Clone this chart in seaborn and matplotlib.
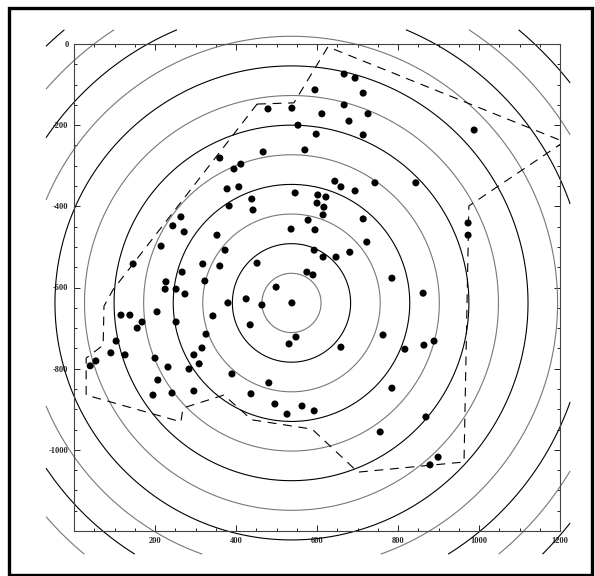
import numpy as np
import matplotlib
matplotlib.use("Agg")
import matplotlib.pyplot as plt
from matplotlib.ticker import MultipleLocator
from matplotlib.patches import Rectangle
import seaborn as sns

# data
pts_x = [479, 538, 595, 553, 598, 467, 570, 360, 412, 667, 694, 714, 667, 612, 726, 679, 714, 988,
         395, 378, 407, 439, 442, 383, 546, 602, 600, 264, 244, 272, 353, 578, 536, 595, 373, 593,
         215, 452, 146, 318, 360, 267, 323, 575, 590, 227, 225, 252, 499, 644, 659, 694, 743, 844,
         622, 617, 615, 714, 723, 681, 615, 647, 785, 973, 973, 274, 380, 425, 464, 538, 116, 138,
         205, 168, 156, 252, 343, 435, 326, 548, 531, 104, 316, 91, 126, 296, 54, 200, 309, 40,
         232, 284, 390, 481, 207, 195, 242, 296, 437, 496, 563, 593, 526, 862, 763, 659, 817, 864,
         889, 785, 869, 756, 899, 879]
pts_y = [-160, -158, -113, -200, -222, -266, -261, -281, -296, -74, -84, -121, -150, -172, -172, -190,
         -224, -212, -308, -357, -352, -382, -409, -399, -367, -372, -392, -426, -448, -463, -471,
         -434, -456, -458, -508, -508, -498, -540, -542, -542, -547, -562, -584, -562, -569, -586,
         -604, -604, -599, -338, -352, -362, -342, -342, -377, -402, -421, -431, -488, -513, -525,
         -525, -577, -441, -471, -616, -638, -628, -643, -638, -668, -668, -660, -685, -700, -685,
         -670, -692, -715, -722, -739, -732, -749, -761, -766, -766, -781, -774, -788, -793, -796,
         -801, -813, -835, -828, -865, -860, -855, -862, -887, -892, -904, -912, -614, -717, -747,
         -752, -742, -732, -848, -919, -956, -1018, -1037]

boundary_x = [452, 543, 627, 1210, 975, 963, 701, 588, 439, 370, 269, 264, 30, 30, 72, 74, 96, 452]
boundary_y = [-148, -145, -7, -241, -399, -1030, -1055, -949, -926, -865, -897, -931, -865, -774,
              -742, -646, -606, -148]

center_x, center_y = 537, -638
ring_radii = [73, 146, 219, 292, 365, 438, 511, 584, 657, 730, 803, 876]

xtick_vals = [200, 400, 600, 800, 1000, 1200]
xtick_labels = ["200", "400", "600", "800", "1000", "1200"]
ytick_vals = [0, -200, -400, -600, -800, -1000]
ytick_labels = ["0", "-200", "-400", "-600", "-800", "-1000"]

sns.set_style("ticks")

fig = plt.figure(figsize=(5.95, 5.76), dpi=100)
ax = fig.add_axes([74 / 595, 1 - 531 / 576, 486 / 595, 487 / 576])

# rings, drawn as contours of distance, on a field a little wider than the frame
gx = np.linspace(-69, 1225, 500)
gy = np.linspace(-1257, 35, 500)
GX, GY = np.meshgrid(gx, gy)
dist = np.hypot(GX - center_x, GY - center_y)
ring_cols = ["#777777" if i % 2 == 0 else "black" for i in range(len(ring_radii))]
cs = ax.contour(GX, GY, dist, levels=ring_radii, colors=ring_cols, linewidths=0.8)
cs.set_clip_on(False)

sns.lineplot(x=boundary_x, y=boundary_y, sort=False, estimator=None, color="black",
             linewidth=0.8, linestyle=(0, (8, 6)), ax=ax)
sns.scatterplot(x=pts_x, y=pts_y, color="black", s=26, edgecolor="none", ax=ax, zorder=5)

ax.set_xlim(0, 1200)
ax.set_ylim(-1200, 0)
ax.set_xticks(xtick_vals)
ax.set_xticklabels(xtick_labels)
ax.set_yticks(ytick_vals)
ax.set_yticklabels(ytick_labels)
ax.xaxis.set_minor_locator(MultipleLocator(50))
ax.yaxis.set_minor_locator(MultipleLocator(50))
ax.tick_params(which="both", direction="in", top=True, right=True, width=0.6, color="black")
ax.tick_params(which="major", length=4, pad=4)
ax.tick_params(which="minor", length=2.2)
for lab in ax.get_xticklabels() + ax.get_yticklabels():
    lab.set_fontfamily("Liberation Serif")
    lab.set_fontsize(6)
    lab.set_fontweight("bold")
for sp in ax.spines.values():
    sp.set_linewidth(0.8)
    sp.set_color("#444444")

# thick outer frame round the whole picture
fig.patches.append(Rectangle((9 / 595, 1 - 575 / 576), 583 / 595, 567 / 576,
                             transform=fig.transFigure, fill=False,
                             edgecolor="black", linewidth=2.4))

fig.savefig("out.png", dpi=100, facecolor="white")
